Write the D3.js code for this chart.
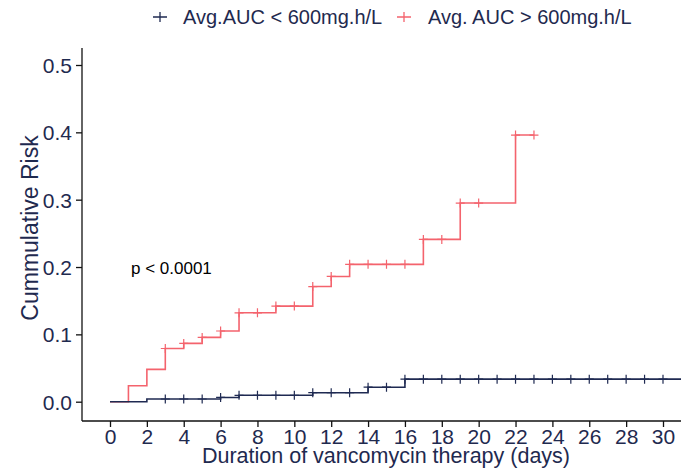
<!DOCTYPE html>
<html>
<head>
<meta charset="utf-8">
<script src="https://cdn.jsdelivr.net/npm/d3@7"></script>
<style>
  body { margin: 0; background: #fff; }
  text { font-family: "Liberation Sans", Arial, sans-serif; }
</style>
</head>
<body>
<script>
// step data: [day, cumulative risk] at each event time
var lowSteps = [[0, 0], [2, 0.004], [6, 0.0063], [7, 0.0095], [11, 0.0134], [14, 0.0215], [16, 0.0335]];
var lowEnd = 32;
var lowCensor = [3, 4, 5, 6, 7, 8, 9, 10, 11, 12, 13, 14, 15, 16, 17, 18, 19, 20, 21, 22, 23, 24, 25, 26, 27, 28, 29, 30];

var highSteps = [[0, 0], [1, 0.0237], [2, 0.048], [3, 0.079], [4, 0.0866], [5, 0.0955], [6, 0.105],
    [7, 0.132], [9, 0.142], [11, 0.171], [12, 0.186], [13, 0.204], [17, 0.241], [19, 0.295], [22, 0.396]];
var highEnd = 23;
var highCensor = [3, 4, 5, 6, 7, 8, 9, 10, 11, 12, 13, 14, 15, 16, 17, 18, 19, 20, 22, 23];

var xTicks = d3.range(0, 31, 2);
var yTicks = [0, 0.1, 0.2, 0.3, 0.4, 0.5];

var navy = "#1f2a52",
    red = "#f4636d",
    textCol = "#1f2a4f";

var width = 681,
    height = 469;

var svg = d3.select("body")
    .append("svg")
    .attr("width", width)
    .attr("height", height);

// x: day 0 at 110px, day 30 at 663px
var x = d3.scaleLinear()
    .domain([0, 30])
    .range([110, 663]);

var y = d3.scaleLinear()
    .domain([0, 0.5])
    .range([401.7, 65]);

var left = 82, bottom = 421;

// value of a step function at day t
function stepAt(steps, t) {
    var v = 0;
    steps.forEach(function(s) { if (s[0] <= t) v = s[1]; });
    return v;
}

var line = d3.line()
    .x(function(d) { return x(d[0]); })
    .y(function(d) { return y(d[1]); })
    .curve(d3.curveStepAfter);

function drawCurve(steps, end, censor, colour) {
    var pts = steps.concat([[end, steps[steps.length - 1][1]]]);
    svg.append("path")
        .attr("d", line(pts))
        .attr("fill", "none")
        .attr("stroke", colour)
        .attr("stroke-width", 1.6);

    svg.selectAll(null)
        .data(censor)
        .enter()
        .append("path")
        .attr("d", function(d) {
            var cx = x(d), cy = y(stepAt(steps, d));
            return "M" + (cx - 4.5) + "," + cy + "H" + (cx + 4.5) + "M" + cx + "," + (cy - 4.5) + "V" + (cy + 4.5);
        })
        .attr("stroke", colour)
        .attr("stroke-width", 1.2);
}

drawCurve(highSteps, highEnd, highCensor, red);
drawCurve(lowSteps, lowEnd, lowCensor, navy);

// axes
var xAxis = svg.append("g")
    .attr("transform", "translate(0," + bottom + ")")
    .call(d3.axisBottom(x).tickValues(xTicks).tickSize(6).tickPadding(2));
xAxis.select(".domain").attr("d", "M" + left + ",0H" + width);

var yAxis = svg.append("g")
    .attr("transform", "translate(" + left + ",0)")
    .call(d3.axisLeft(y).tickValues(yTicks).tickFormat(d3.format(".1f")).tickSize(6).tickPadding(4));
yAxis.select(".domain").attr("d", "M0,48V" + bottom);

[xAxis, yAxis].forEach(function(g) {
    g.selectAll(".domain, line").attr("stroke", "#111").attr("stroke-width", 1.3);
    g.selectAll("text")
        .attr("fill", textCol)
        .style("font-size", "21px");
});
xAxis.selectAll("text").attr("dy", "0.7em");
yAxis.selectAll("text").attr("dy", "0.36em");

// axis titles
svg.append("text")
    .attr("x", 386)
    .attr("y", 463)
    .attr("text-anchor", "middle")
    .attr("fill", textCol)
    .style("font-size", "21.5px")
    .text("Duration of vancomycin therapy (days)");

svg.append("text")
    .attr("transform", "translate(38,228) rotate(-90)")
    .attr("text-anchor", "middle")
    .attr("fill", textCol)
    .style("font-size", "23px")
    .text("Cummulative Risk");

// p value
svg.append("text")
    .attr("x", 131)
    .attr("y", 274)
    .attr("fill", "#000")
    .style("font-size", "17px")
    .text("p < 0.0001");

// legend
var legend = [
    { label: "Avg.AUC < 600mg.h/L", colour: navy, mx: 160, tx: 183 },
    { label: "Avg. AUC > 600mg.h/L", colour: red, mx: 404, tx: 428 }
];
legend.forEach(function(l) {
    svg.append("path")
        .attr("d", "M" + (l.mx - 7) + ",17H" + (l.mx + 7) + "M" + l.mx + ",12V22")
        .attr("stroke", l.colour)
        .attr("stroke-width", 1.3);
    svg.append("text")
        .attr("x", l.tx)
        .attr("y", 24)
        .attr("fill", textCol)
        .style("font-size", "20px")
        .text(l.label);
});
</script>
</body>
</html>
